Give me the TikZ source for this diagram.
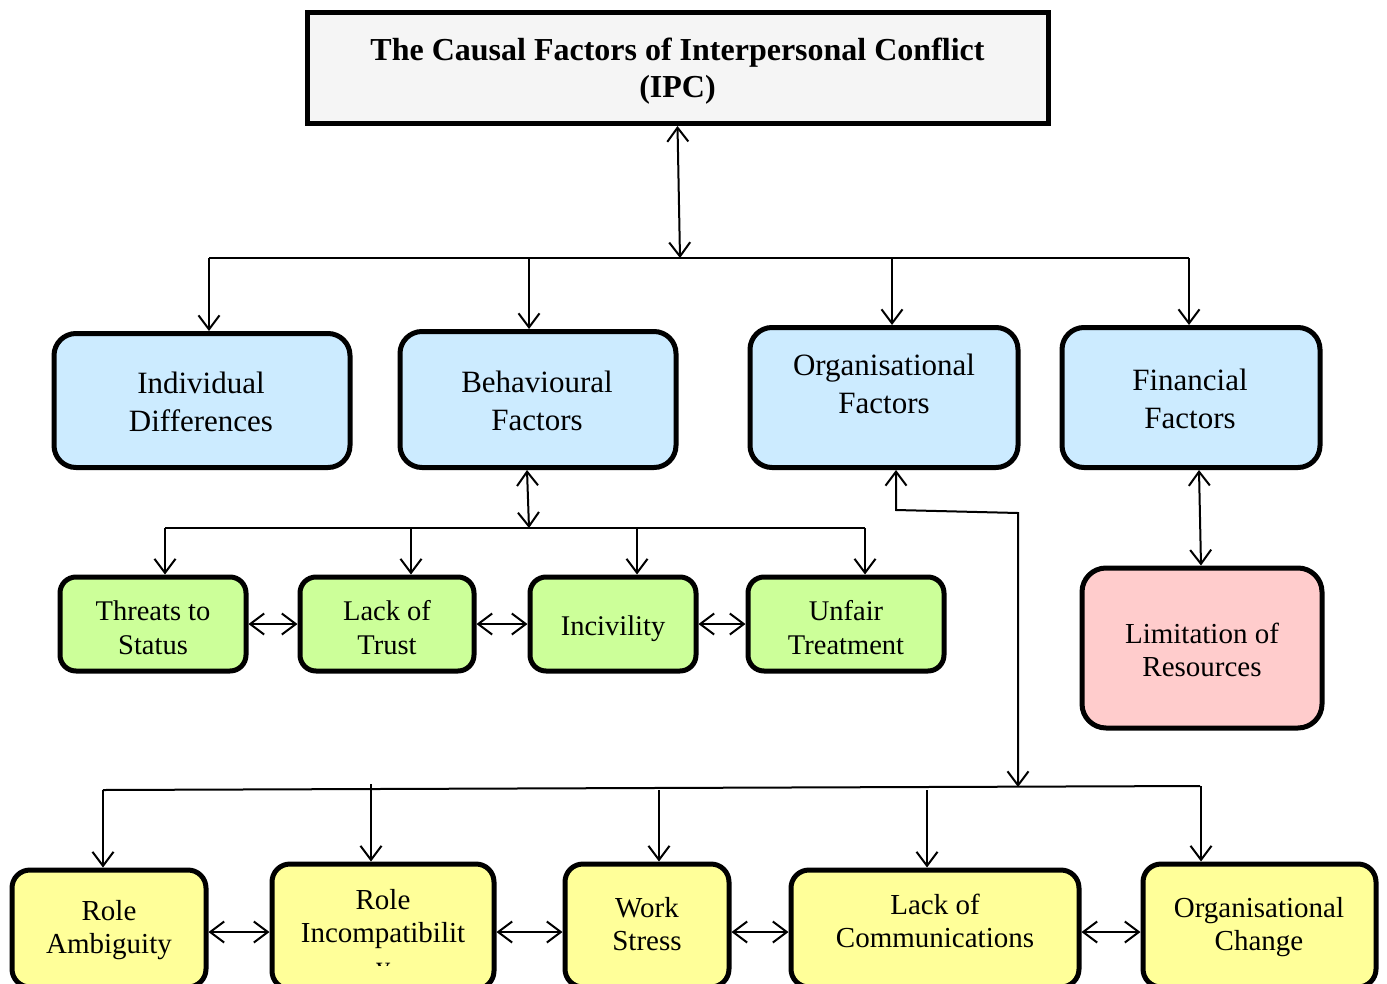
\documentclass[tikz,border=0pt]{standalone}
\usepackage{fontspec}
\setmainfont{Liberation Serif}
\usetikzlibrary{arrows.meta}
\definecolor{titlefill}{RGB}{245,245,245}
\definecolor{bluefill}{RGB}{204,235,255}
\definecolor{greenfill}{RGB}{204,255,153}
\definecolor{yellowfill}{RGB}{255,255,153}
\definecolor{pinkfill}{RGB}{255,204,204}
\begin{document}
\begin{tikzpicture}[x=1pt,y=-1pt,
  >={Straight Barb[length=14pt,width=21pt,line width=2pt]},
  conn/.style={line width=2pt},
  card/.style={draw, line width=5pt, rounded corners=22pt, inner sep=0pt},
  bluecard/.style={card, fill=bluefill},
  greencard/.style={card, fill=greenfill, rounded corners=16pt},
  yellowcard/.style={card, fill=yellowfill, rounded corners=18pt},
  pinkcard/.style={card, fill=pinkfill, rounded corners=24pt},
  bluetext/.style={align=center, font=\fontsize{31}{38}\selectfont},
  greentext/.style={align=center, font=\fontsize{28.5}{34}\selectfont},
  yellowtext/.style={align=center, font=\fontsize{29}{33.5}\selectfont}]
\useasboundingbox (0,0) rectangle (1387,983);
\clip (0,0) rectangle (1387,983);

% title box
\node[draw, line width=5pt, fill=titlefill, minimum width=741pt, minimum height=111pt] (title) at (677.5,68) {};
\node[align=center, font=\bfseries\fontsize{32}{37}\selectfont] (titleT) at (677.5,71)
  {The Causal Factors of Interpersonal Conflict\\(IPC)};

% first level boxes
\node[bluecard, minimum width=296pt, minimum height=134pt] (ind) at (202,400.5) {};
\node[bluecard, minimum width=276pt, minimum height=136pt] (beh) at (538,399.5) {};
\node[bluecard, minimum width=268pt, minimum height=140pt] (org) at (884,397.5) {};
\node[bluecard, minimum width=258pt, minimum height=140pt] (fin) at (1191,397.5) {};
\node[bluetext] (indT) at (201,402) {Individual\\Differences};
\node[bluetext] (behT) at (537,401) {Behavioural\\Factors};
\node[bluetext] (orgT) at (884,384) {Organisational\\Factors};
\node[bluetext] (finT) at (1190,399) {Financial\\Factors};

% behavioural factors
\node[greencard, minimum width=186pt, minimum height=94pt] (thr) at (153,624) {};
\node[greencard, minimum width=174pt, minimum height=94pt] (tru) at (387,624) {};
\node[greencard, minimum width=166pt, minimum height=94pt] (inc) at (613,624) {};
\node[greencard, minimum width=196pt, minimum height=94pt] (unf) at (846,624) {};
\node[greentext] (thrT) at (153,628) {Threats to\\Status};
\node[greentext] (truT) at (387,628) {Lack of\\Trust};
\node[greentext] (incT) at (613,629) {Incivility};
\node[greentext] (unfT) at (846,628) {Unfair\\Treatment};

% financial factor
\node[pinkcard, minimum width=240pt, minimum height=160pt] (lim) at (1202,648) {};
\node[yellowtext] (limT) at (1202,650) {Limitation of\\Resources};

% organisational factors
\node[yellowcard, minimum width=194pt, minimum height=117pt] (ram) at (109,928.5) {};
\node[yellowcard, minimum width=222pt, minimum height=125pt] (rin) at (383,926.5) {};
\node[yellowcard, minimum width=164pt, minimum height=123pt] (wst) at (647,925.5) {};
\node[yellowcard, minimum width=288pt, minimum height=117pt] (lco) at (935,928.5) {};
\node[yellowcard, minimum width=233pt, minimum height=123pt] (och) at (1259.5,925.5) {};
\node[yellowtext] (ramT) at (109,930) {Role\\Ambiguity};
\begin{scope}
  \clip (271,863) rectangle (495,965.5);
  \node[yellowtext] (rinT) at (383,936) {Role\\Incompatibilit\\y};
\end{scope}
\node[yellowtext] (wstT) at (647,924) {Work\\Stress};
\node[yellowtext] (lcoT) at (935,921) {Lack of\\Communications};
\node[yellowtext] (ochT) at (1259,927) {Organisational\\Change};

% top bus
\coordinate (tb) at (680,258);
\coordinate (tb1) at (209,258);
\coordinate (tb2) at (529,258);
\coordinate (tb3) at (892,258);
\coordinate (tb4) at (1189,258);
\draw[conn,<->] (title.south) -- (tb);
\draw[conn] (tb1) -- (tb4);
\draw[conn,->] (tb1) -- (tb1 |- ind.north);
\draw[conn,->] (tb2) -- (tb2 |- beh.north);
\draw[conn,->] (tb3) -- (tb3 |- org.north);
\draw[conn,->] (tb4) -- (tb4 |- fin.north);

% behavioural bus
\coordinate (bs) at (527,470);
\coordinate (bb) at (529,528);
\coordinate (bb1) at (165,528);
\coordinate (bb2) at (411,528);
\coordinate (bb3) at (637,528);
\coordinate (bb4) at (865,528);
\draw[conn,<->] (bs |- beh.south) -- (bb);
\draw[conn] (bb1) -- (bb4);
\draw[conn,->] (bb1) -- (bb1 |- thr.north);
\draw[conn,->] (bb2) -- (bb2 |- tru.north);
\draw[conn,->] (bb3) -- (bb3 |- inc.north);
\draw[conn,->] (bb4) -- (bb4 |- unf.north);
\draw[conn,<->] (thr.east) -- (tru.west);
\draw[conn,<->] (tru.east) -- (inc.west);
\draw[conn,<->] (inc.east) -- (unf.west);

% financial link
\coordinate (fs) at (1199,470);
\coordinate (ln) at (1201,567);
\draw[conn,<->] (fs |- fin.south) -- (ln |- lim.north);

% organisational route
\coordinate (o1) at (896,510);
\coordinate (o2) at (1018,513);
\coordinate (o3) at (1018,787);
\draw[conn,<->] (o1 |- org.south) -- (o1) -- (o2) -- (o3);

% bottom bus
\coordinate (yb1) at (103,790);
\coordinate (yb2) at (371,784);
\coordinate (yb3) at (659,790);
\coordinate (yb4) at (927,790);
\coordinate (yb5) at (1201,786);
\draw[conn] (yb1) -- (1200,786);
\draw[conn,->] (yb1) -- (yb1 |- ram.north);
\draw[conn,->] (yb2) -- (yb2 |- rin.north);
\draw[conn,->] (yb3) -- (yb3 |- wst.north);
\draw[conn,->] (yb4) -- (yb4 |- lco.north);
\draw[conn,->] (yb5) -- (yb5 |- och.north);
\coordinate (hy) at (0,932);
\draw[conn,<->] (ram.east |- hy) -- (rin.west |- hy);
\draw[conn,<->] (rin.east |- hy) -- (wst.west |- hy);
\draw[conn,<->] (wst.east |- hy) -- (lco.west |- hy);
\draw[conn,<->] (lco.east |- hy) -- (och.west |- hy);
\end{tikzpicture}
\end{document}
